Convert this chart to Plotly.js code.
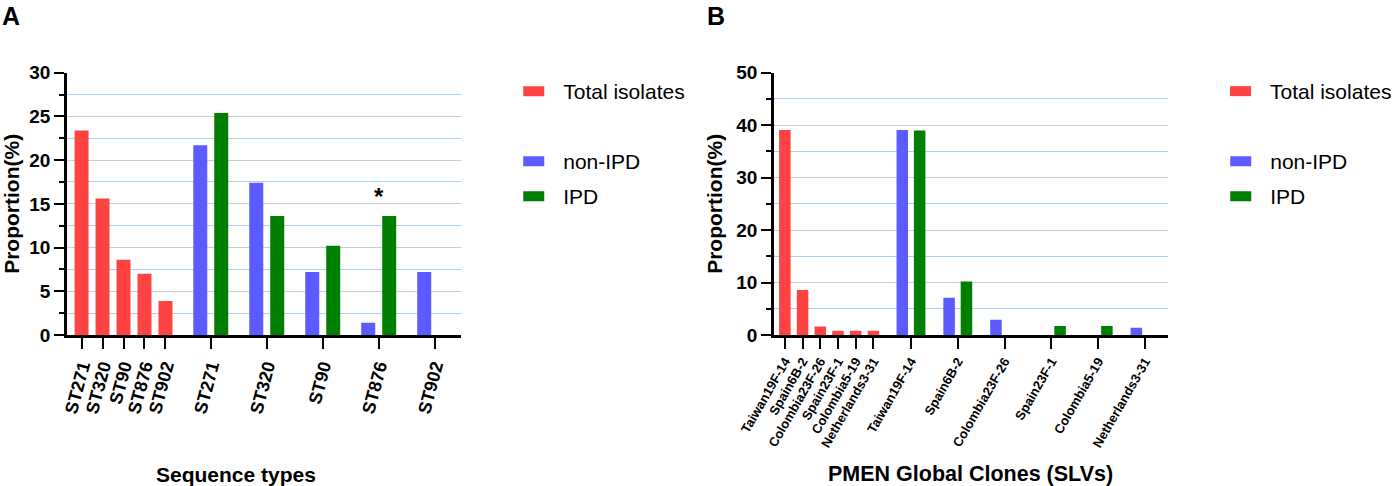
<!DOCTYPE html>
<html lang="es">
<head>
<meta charset="utf-8">
<title>Proporción de tipos de secuencia y clones PMEN</title>
<script src="https://cdn.plot.ly/plotly-3.0.1.min.js"></script>
<style>
  html, body { margin: 0; padding: 0; background: #ffffff; }
  #grafico { width: 1397px; height: 486px; }
</style>
</head>
<body>
<div id="grafico"></div>
<script>
// Panel A: tipos de secuencia
const tiposA = ['ST271', 'ST320', 'ST90', 'ST876', 'ST902'];
const totalA = [23.4, 15.6, 8.6, 7.0, 3.9];
const noIpdA = [21.7, 17.4, 7.2, 1.4, 7.2];
const ipdA = [25.4, 13.6, 10.2, 13.6, 0];

// Panel B: clones globales PMEN (SLVs)
const clonesB = ['Taiwan19F-14', 'Spain6B-2', 'Colombia23F-26', 'Spain23F-1', 'Colombia5-19', 'Netherlands3-31'];
const totalB = [39.1, 8.6, 1.6, 0.8, 0.8, 0.8];
const noIpdB = [39.1, 7.1, 2.9, 0, 0, 1.4];
const ipdB = [39.0, 10.2, 0, 1.7, 1.7, 0];

const nombres = ['Total isolates', 'non-IPD', 'IPD'];

const FUENTE = '"Liberation Sans", Arial, Helvetica, sans-serif';
const ANCHO = 1397;
const ALTO = 486;

const colores = {
  total: '#FF4343',
  noIpd: '#5B5BFF',
  ipd: '#007F00',
  rejilla: '#CDCDCD',
  rejillaMenor: '#A8D0F7'
};

// altura (px) del centro de cada entrada de la leyenda
const filasLeyenda = [92, 162, 197];

const App = {
  // px -> fraccion del papel
  px(x) { return x / ANCHO; },
  py(y) { return (ALTO - y) / ALTO; },

  paneles: [
    {
      ejeX: 'x', ejeY: 'y', leyendas: ['legend', 'legend2', 'legend3'],
      categorias: tiposA, total: totalA, noIpd: noIpdA, ipd: ipdA,
      dominio: [67, 462], rango: [-0.70, 18.11],
      inicioGrupos: 6.16, pasoGrupos: 2.67,
      anchoBarra: 0.667, separacion: 0.5,
      maxY: 30, pasoY: 5,
      anguloTicks: -75, fuenteTicks: 18,
      leyendaX: 524, tituloX: 'Sequence types', centroTituloX: 236, fuenteTituloX: 21,
      letra: 'A', letraX: 0
    },
    {
      ejeX: 'x2', ejeY: 'y2', leyendas: ['legend4', 'legend5', 'legend6'],
      categorias: clonesB, total: totalB, noIpd: noIpdB, ipd: ipdB,
      dominio: [775, 1170], rango: [-0.62, 21.65],
      inicioGrupos: 7.12, pasoGrupos: 2.643,
      anchoBarra: 0.65, separacion: 0.49,
      maxY: 50, pasoY: 10,
      anguloTicks: -60, fuenteTicks: 13,
      leyendaX: 1232, tituloX: 'PMEN Global Clones (SLVs)', centroTituloX: 972, fuenteTituloX: 21.5,
      letra: 'B', letraX: 706
    }
  ],

  posiciones(p) {
    const rojas = p.categorias.map((_, i) => i);
    const grupos = p.categorias.map((_, j) => p.inicioGrupos + j * p.pasoGrupos);
    return { rojas, grupos };
  },

  trazas(p) {
    const { rojas, grupos } = this.posiciones(p);
    const w = p.anchoBarra;
    const base = {
      type: 'bar',
      xaxis: p.ejeX,
      yaxis: p.ejeY,
      width: w,
      showlegend: true,
      hoverinfo: 'x+y'
    };
    return [
      { ...base, x: rojas, y: p.total, offset: -w / 2, name: nombres[0], legend: p.leyendas[0],
        marker: { color: colores.total, line: { width: 0 } } },
      { ...base, x: grupos, y: p.noIpd, offset: -p.separacion - w / 2, name: nombres[1], legend: p.leyendas[1],
        marker: { color: colores.noIpd, line: { width: 0 } } },
      { ...base, x: grupos, y: p.ipd, offset: p.separacion - w / 2, name: nombres[2], legend: p.leyendas[2],
        marker: { color: colores.ipd, line: { width: 0 } } }
    ];
  },

  ejes(p, layout) {
    const { rojas, grupos } = this.posiciones(p);
    const sufijo = p.ejeX === 'x' ? '' : '2';
    layout['xaxis' + sufijo] = {
      domain: [this.px(p.dominio[0]), this.px(p.dominio[1])],
      range: p.rango,
      anchor: p.ejeY,
      tickmode: 'array',
      tickvals: rojas.concat(grupos),
      ticktext: p.categorias.concat(p.categorias),
      tickangle: p.anguloTicks,
      tickfont: { family: FUENTE, size: p.fuenteTicks, color: '#000', weight: 'bold' },
      ticks: 'outside', ticklen: 11, tickwidth: 2, tickcolor: '#000',
      showline: true, linewidth: 2.5, linecolor: '#000',
      showgrid: false, zeroline: false, fixedrange: true
    };
    layout['yaxis' + sufijo] = {
      domain: [this.py(335), this.py(72.7)],
      range: [0, p.maxY],
      anchor: p.ejeX,
      tick0: 0, dtick: p.pasoY,
      ticks: 'outside', ticklen: 10, tickwidth: 2, tickcolor: '#000',
      tickfont: { family: FUENTE, size: 19, color: '#000', weight: 'bold' },
      showline: true, linewidth: 2.5, linecolor: '#000',
      showgrid: true, gridcolor: colores.rejilla, gridwidth: 1,
      zeroline: false, fixedrange: true,
      minor: {
        dtick: p.pasoY / 2, ticks: 'outside', ticklen: 5, tickwidth: 2, tickcolor: '#000',
        showgrid: true, gridcolor: colores.rejillaMenor, gridwidth: 1
      },
      title: {
        text: 'Proportion(%)',
        font: { family: FUENTE, size: 21, color: '#000', weight: 'bold' },
        standoff: 8
      }
    };
    // una leyenda por serie para reproducir la separación de filas
    p.leyendas.forEach((nombre, i) => {
      layout[nombre] = {
        x: this.px(p.leyendaX), xanchor: 'left',
        y: this.py(filasLeyenda[i] - 21), yanchor: 'top',
        bgcolor: 'rgba(0,0,0,0)',
        font: { family: FUENTE, size: 21, color: '#000' }
      };
    });
  },

  anotaciones(p) {
    const { grupos } = this.posiciones(p);
    const lista = [
      { xref: 'paper', yref: 'paper', x: this.px(p.centroTituloX), y: this.py(474),
        xanchor: 'center', yanchor: 'middle', showarrow: false, text: p.tituloX,
        font: { family: FUENTE, size: p.fuenteTituloX, color: '#000', weight: 'bold' } },
      { xref: 'paper', yref: 'paper', x: this.px(p.letraX), y: this.py(16),
        xanchor: 'left', yanchor: 'middle', showarrow: false, text: p.letra,
        font: { family: FUENTE, size: 25, color: '#000', weight: 'bold' } }
    ];
    if (p.letra === 'A') {
      // significancia en ST876
      lista.push({ xref: p.ejeX, yref: p.ejeY, x: grupos[3], y: p.ipd[3],
        xanchor: 'center', yanchor: 'bottom', yshift: 4, showarrow: false, text: '*',
        font: { family: FUENTE, size: 24, color: '#000', weight: 'bold' } });
    }
    return lista;
  },

  iniciar() {
    let datos = [];
    let anotaciones = [];
    const layout = {
      width: ANCHO, height: ALTO,
      margin: { l: 0, r: 0, t: 0, b: 0 },
      paper_bgcolor: '#ffffff', plot_bgcolor: '#ffffff',
      barmode: 'overlay',
      showlegend: true,
      font: { family: FUENTE, color: '#000' }
    };
    this.paneles.forEach(p => {
      datos = datos.concat(this.trazas(p));
      this.ejes(p, layout);
      anotaciones = anotaciones.concat(this.anotaciones(p));
    });
    layout.annotations = anotaciones;

    Plotly.newPlot('grafico', datos, layout, { displayModeBar: false, responsive: false })
      .then(gd => {
        // muestras de la leyenda como rectángulos anchos
        gd.querySelectorAll('.legendpoints path').forEach(el => {
          el.setAttribute('d', 'M1,5H-27V-5H1Z');
        });
      });
  }
};

document.addEventListener('DOMContentLoaded', () => {
  App.iniciar();
});
</script>
</body>
</html>
